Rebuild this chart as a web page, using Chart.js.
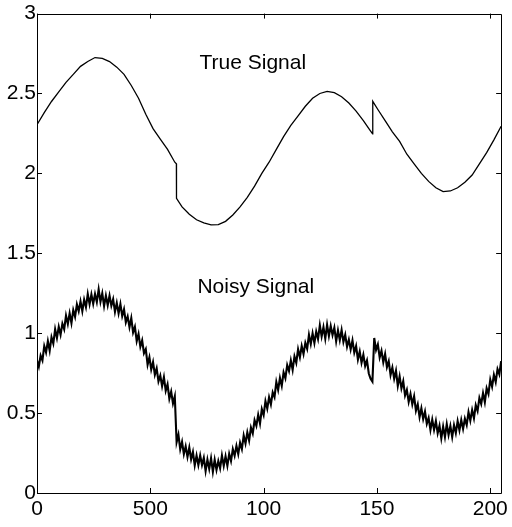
<!DOCTYPE html>
<html>
<head>
<meta charset="utf-8">
<script src="https://cdn.jsdelivr.net/npm/chart.js@4/dist/chart.umd.min.js"></script>
<style>
  html, body { margin: 0; padding: 0; background: #fff; }
  #c { display: block; }
</style>
</head>
<body>
<canvas id="c" width="512" height="527"></canvas>
<script>
// ---- data ----
const xTickValues = [0, 500, 1000, 1500, 2000];
const xTickLabels = ["0", "500", "100", "150", "200"];
const yTickValues = [0, 0.5, 1, 1.5, 2, 2.5, 3];

const trueX = [0, 32, 64, 96, 128, 160, 192, 224, 256, 288, 320, 352, 384, 416, 448, 480, 512, 544, 576, 608, 615, 615.5,
  640, 672, 704, 736, 768, 800, 832, 864, 896, 928, 960, 992, 1024, 1056, 1088, 1120, 1152, 1184, 1216, 1248, 1280,
  1312, 1344, 1376, 1408, 1440, 1472, 1481, 1481.5, 1504, 1536, 1568, 1600, 1632, 1664, 1696, 1728, 1760, 1792,
  1824, 1856, 1888, 1920, 1952, 1984, 2016, 2048];
const trueY = [2.305, 2.38, 2.45, 2.51, 2.57, 2.62, 2.67, 2.70, 2.725, 2.72, 2.70, 2.665, 2.62, 2.55, 2.47, 2.37, 2.28, 2.215, 2.15, 2.07, 2.06, 1.844,
  1.79, 1.745, 1.71, 1.69, 1.678, 1.68, 1.70, 1.74, 1.79, 1.85, 1.92, 2.00, 2.07, 2.15, 2.23, 2.30, 2.36, 2.42, 2.47, 2.50, 2.513,
  2.505, 2.48, 2.44, 2.39, 2.33, 2.265, 2.247, 2.451, 2.40, 2.33, 2.26, 2.20, 2.12, 2.06, 2.00, 1.95, 1.91, 1.886,
  1.89, 1.91, 1.945, 1.99, 2.06, 2.13, 2.21, 2.295];

// noisy signal, one reading every 8 samples (sample index 0..2048)
const noisyStep = 8;
const noisyY = [
  0.83, 0.79, 0.86, 0.83, 0.92, 0.88, 0.95, 0.89, 0.975, 0.935, 1.025, 0.97, 1.04, 0.99, 1.06, 1.025,
  1.11, 1.058, 1.125, 1.063, 1.145, 1.103, 1.18, 1.138, 1.20, 1.138, 1.21, 1.163, 1.245, 1.182, 1.243, 1.184,
  1.245, 1.195, 1.274, 1.197, 1.25, 1.17, 1.235, 1.175, 1.235, 1.172, 1.213, 1.134, 1.19, 1.124, 1.183, 1.107,
  1.15, 1.068, 1.105, 1.038, 1.095, 1.005, 1.04, 0.95, 0.995, 0.915, 0.955, 0.875, 0.90, 0.803, 0.85, 0.773,
  0.82, 0.74, 0.78, 0.698, 0.735, 0.668, 0.725, 0.64, 0.68, 0.59, 0.635, 0.56, 0.605, 0.318, 0.365, 0.273,
  0.32, 0.243, 0.292, 0.226, 0.285, 0.211, 0.257, 0.173, 0.235, 0.175, 0.235, 0.175, 0.22, 0.137, 0.209, 0.151,
  0.218, 0.133, 0.208, 0.144, 0.20, 0.155, 0.235, 0.17, 0.23, 0.17, 0.245, 0.20, 0.275, 0.233, 0.295, 0.243,
  0.315, 0.275, 0.36, 0.31, 0.38, 0.328, 0.41, 0.373, 0.455, 0.42, 0.49, 0.435, 0.525, 0.488, 0.575, 0.528,
  0.60, 0.555, 0.63, 0.60, 0.695, 0.645, 0.72, 0.67, 0.755, 0.718, 0.80, 0.763, 0.83, 0.77, 0.855, 0.815,
  0.90, 0.85, 0.92, 0.87, 0.94, 0.903, 0.99, 0.933, 1.00, 0.938, 1.01, 0.963, 1.05, 0.979, 1.038, 0.966,
  1.053, 0.982, 1.045, 0.988, 1.035, 0.949, 1.018, 0.957, 1.02, 0.945, 0.99, 0.915, 0.96, 0.898, 0.955, 0.878,
  0.92, 0.835, 0.885, 0.815, 0.865, 0.795, 0.83, 0.748, 0.715, 0.697, 0.97, 0.895, 0.93, 0.848, 0.89, 0.818,
  0.87, 0.788, 0.825, 0.738, 0.785, 0.715, 0.765, 0.67, 0.73, 0.655, 0.70, 0.61, 0.645, 0.57, 0.62, 0.555,
  0.605, 0.515, 0.555, 0.475, 0.53, 0.463, 0.51, 0.433, 0.47, 0.395, 0.46, 0.395, 0.45, 0.374, 0.422, 0.342,
  0.416, 0.351, 0.431, 0.363, 0.42, 0.35, 0.425, 0.375, 0.45, 0.393, 0.457, 0.401, 0.465, 0.426, 0.507, 0.453,
  0.52, 0.468, 0.55, 0.513, 0.595, 0.558, 0.625, 0.568, 0.655, 0.62, 0.71, 0.665, 0.74, 0.695, 0.775, 0.743,
  0.825];

const annotations = [
  { text: "True Signal", x: 717, y: 2.69 },
  { text: "Noisy Signal", x: 708, y: 1.285 }
];

// ---- chart ----
const FONT = '"Liberation Sans", Arial, Helvetica, sans-serif';

const framePlugin = {
  id: 'frame',
  afterDatasetsDraw(chart) {
    const { ctx, chartArea: a, scales } = chart;
    const xs = scales.x, ys = scales.y;
    ctx.save();
    ctx.strokeStyle = '#000';
    ctx.lineWidth = 1;
    ctx.beginPath();
    ctx.rect(Math.round(a.left) + 0.5, Math.round(a.top) + 0.5,
             Math.round(a.right - a.left), Math.round(a.bottom - a.top));
    ctx.stroke();
    const tl = 5;
    ctx.beginPath();
    xTickValues.forEach(v => {
      const px = Math.round(xs.getPixelForValue(v)) + 0.5;
      ctx.moveTo(px, a.bottom); ctx.lineTo(px, a.bottom - tl);
      ctx.moveTo(px, a.top); ctx.lineTo(px, a.top + tl);
    });
    yTickValues.forEach(v => {
      const py = Math.round(ys.getPixelForValue(v)) + 0.5;
      ctx.moveTo(a.left, py); ctx.lineTo(a.left + tl, py);
      ctx.moveTo(a.right, py); ctx.lineTo(a.right - tl, py);
    });
    ctx.stroke();
    ctx.fillStyle = '#000';
    ctx.font = '21px ' + FONT;
    ctx.textAlign = 'left';
    ctx.textBaseline = 'middle';
    annotations.forEach(t => {
      ctx.fillText(t.text, xs.getPixelForValue(t.x), ys.getPixelForValue(t.y));
    });
    ctx.restore();
  }
};

new Chart(document.getElementById('c'), {
  type: 'line',
  data: {
    datasets: [
      {
        label: 'True Signal',
        data: trueX.map((x, i) => ({ x, y: trueY[i] })),
        borderColor: '#000',
        borderWidth: 1.3,
        pointRadius: 0,
        tension: 0,
        fill: false
      },
      {
        label: 'Noisy Signal',
        data: noisyY.map((y, i) => ({ x: i * noisyStep, y })),
        borderColor: '#000',
        borderWidth: 2.1,
        borderJoinStyle: 'miter',
        pointRadius: 0,
        tension: 0,
        fill: false
      }
    ]
  },
  options: {
    responsive: false,
    animation: false,
    events: [],
    layout: { padding: { top: 12, right: 9, left: 0, bottom: 0 } },
    plugins: { legend: { display: false }, tooltip: { enabled: false } },
    scales: {
      x: {
        type: 'linear',
        min: 0,
        max: 2048,
        grid: { display: false, drawTicks: false },
        border: { display: false },
        afterBuildTicks: s => { s.ticks = xTickValues.map(v => ({ value: v })); },
        afterFit: s => { s.height = 34; },
        ticks: {
          color: '#000',
          font: { size: 21, family: FONT },
          padding: 4,
          maxRotation: 0,
          autoSkip: false,
          callback: (v) => xTickLabels[xTickValues.indexOf(v)]
        }
      },
      y: {
        type: 'linear',
        min: 0,
        max: 3,
        grid: { display: false, drawTicks: false },
        border: { display: false },
        afterBuildTicks: s => { s.ticks = yTickValues.map(v => ({ value: v })); },
        afterFit: s => { s.width = 37; },
        ticks: {
          color: '#000',
          font: { size: 21, family: FONT },
          padding: 1,
          autoSkip: false,
          callback: (v) => String(v)
        }
      }
    }
  },
  plugins: [framePlugin]
});
</script>
</body>
</html>
